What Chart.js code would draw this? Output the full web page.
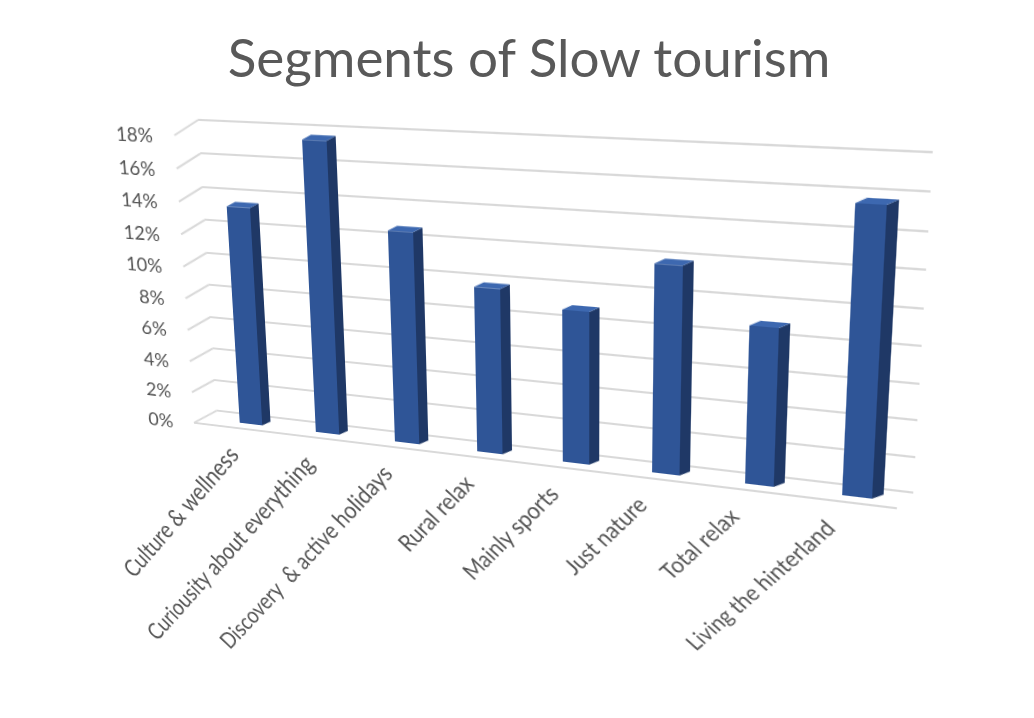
<!DOCTYPE html>
<html>
<head>
<meta charset="utf-8">
<title>Segments of Slow tourism</title>
<script src="https://cdn.jsdelivr.net/npm/chart.js@4.4.1/dist/chart.umd.min.js"></script>
<style>
  html, body { margin: 0; padding: 0; background: #fff; }
  body { width: 1034px; height: 718px; position: relative; overflow: hidden; }
  #title {
    position: absolute; left: 0; top: 30px; width: 1058px;
    text-align: center; font-family: Lato, 'Open Sans', sans-serif;
    font-size: 53px; line-height: 1; color: #595959;
  }
  #plot { position: absolute; left: 0; top: 0; width: 1034px; height: 718px; transform-origin: 0 0; }
</style>
</head>
<body>
<div id="title">Segments of Slow tourism</div>
<div id="plot"><canvas id="slowChart" width="1034" height="718"></canvas></div>
<script>
// Data (share of tourists, %)
const segments = [
  'Culture & wellness',
  'Curiousity about everything',
  'Discovery  & active holidays',
  'Rural relax',
  'Mainly sports',
  'Just nature',
  'Total relax',
  'Living the hinterland'
];
const shares = [13.6, 17.8, 12.8, 9.9, 9.0, 12.0, 9.0, 15.9];
const yTicks = [0, 2, 4, 6, 8, 10, 12, 14, 16, 18];

// Colours
const frontColor = '#2F5597',
  sideColor = '#1F3866',
  topColor = '#3D68B0',
  gridColor = '#D9D9D9',
  labelColor = '#555555';

// Depth of the bar boxes, back wall and floor edge (flat canvas px)
const barDepth = { x: 9, y: -5 };
const wallDepth = { x: 4, y: -11 };
const frontEdge = { left: -22, right: -8, y: 5 };
const labelFont = 22.5;

// Where bar 1 and bar 8 stand in the picture, at 0% and at the top of the axis
const viewTarget = [[251, 425], [234, 133], [857, 498], [873, 163]];

// Back wall grid is drawn shifted by the depth, plus the side wall and floor edge
const wallPlugin = {
  id: 'wall',
  beforeDraw(chart) {
    chart.ctx.save();
    chart.ctx.translate(wallDepth.x, wallDepth.y);
  },
  beforeDatasetsDraw(chart) {
    const ctx = chart.ctx;
    ctx.restore();
    const area = chart.chartArea;
    const yScale = chart.scales.y;
    const x0 = area.left + frontEdge.left;
    ctx.save();
    ctx.strokeStyle = gridColor;
    ctx.lineWidth = 2;
    ctx.beginPath();
    yTicks.forEach(function (v) {
      const py = yScale.getPixelForValue(v);
      ctx.moveTo(x0, py + frontEdge.y);
      ctx.lineTo(area.left + wallDepth.x, py + wallDepth.y);
    });
    const p0 = yScale.getPixelForValue(0) + frontEdge.y;
    ctx.moveTo(x0, p0);
    ctx.lineTo(area.right + frontEdge.right, p0);
    ctx.stroke();
    ctx.restore();
  }
};

// Side and top faces of each bar
const boxPlugin = {
  id: 'box',
  afterDatasetsDraw(chart) {
    const ctx = chart.ctx;
    chart.getDatasetMeta(0).data.forEach(function (bar) {
      const p = bar.getProps(['x', 'y', 'base', 'width'], true);
      const l = p.x - p.width / 2, r = p.x + p.width / 2;
      ctx.save();
      ctx.fillStyle = sideColor;
      ctx.beginPath();
      ctx.moveTo(r, p.y);
      ctx.lineTo(r + barDepth.x, p.y + barDepth.y);
      ctx.lineTo(r + barDepth.x, p.base + barDepth.y);
      ctx.lineTo(r, p.base);
      ctx.closePath();
      ctx.fill();
      ctx.fillStyle = topColor;
      ctx.beginPath();
      ctx.moveTo(l, p.y);
      ctx.lineTo(l + barDepth.x, p.y + barDepth.y);
      ctx.lineTo(r + barDepth.x, p.y + barDepth.y);
      ctx.lineTo(r, p.y);
      ctx.closePath();
      ctx.fill();
      ctx.restore();
    });
  }
};

// per-label font size, filled in once the view transform is known
let xLabelSizes = segments.map(function () { return labelFont; });

const slowChart = new Chart(document.getElementById('slowChart'), {
  type: 'bar',
  data: {
    labels: segments,
    datasets: [
      {
        data: shares,
        backgroundColor: frontColor,
        borderWidth: 0,
        barPercentage: 0.3,
        categoryPercentage: 1
      }
    ]
  },
  options: {
    responsive: false,
    animation: false,
    layout: { padding: { left: 112, right: 182, top: 133, bottom: 13 } },
    plugins: {
      legend: { display: false },
      title: { display: false },
      tooltip: { enabled: false }
    },
    scales: {
      x: {
        afterFit: function (scale) { scale.height = 280; },
        grid: { display: false },
        border: { display: false },
        ticks: {
          z: 1,
          autoSkip: false,
          minRotation: 50,
          maxRotation: 50,
          padding: 12,
          labelOffset: -20,
          color: labelColor,
          font: function (ctx) {
            return { family: 'Lato', size: xLabelSizes[ctx.index] || labelFont };
          }
        }
      },
      y: {
        min: 0,
        max: yTicks[yTicks.length - 1],
        afterFit: function (scale) { scale.width = 100; },
        afterBuildTicks: function (scale) {
          scale.ticks = yTicks.map(function (v) { return { value: v }; });
        },
        grid: { color: gridColor, lineWidth: 2, drawTicks: false },
        border: { display: false },
        ticks: {
          z: 1,
          padding: 45,
          labelOffset: 7,
          color: labelColor,
          font: { family: 'Lato', size: 20 },
          callback: function (v) { return v + '%'; }
        }
      }
    }
  },
  plugins: [wallPlugin, boxPlugin]
});

// Perspective: map the flat plot onto the tilted view with a projective transform
function homography(src, dst) {
  const A = [], b = [];
  for (let i = 0; i < 4; i++) {
    const x = src[i][0], y = src[i][1], u = dst[i][0], v = dst[i][1];
    A.push([x, y, 1, 0, 0, 0, -u * x, -u * y]); b.push(u);
    A.push([0, 0, 0, x, y, 1, -v * x, -v * y]); b.push(v);
  }
  for (let c = 0; c < 8; c++) {
    let p = c;
    for (let r = c + 1; r < 8; r++) if (Math.abs(A[r][c]) > Math.abs(A[p][c])) p = r;
    [A[c], A[p]] = [A[p], A[c]];
    [b[c], b[p]] = [b[p], b[c]];
    for (let r = 0; r < 8; r++) {
      if (r === c) continue;
      const f = A[r][c] / A[c][c];
      for (let k = c; k < 8; k++) A[r][k] -= f * A[c][k];
      b[r] -= f * b[c];
    }
  }
  return b.map(function (val, i) { return val / A[i][i]; });
}

const xs = slowChart.scales.x, ys = slowChart.scales.y;
const last = segments.length - 1, yTop = yTicks[yTicks.length - 1];
const src = [
  [xs.getPixelForValue(0), ys.getPixelForValue(0)],
  [xs.getPixelForValue(0), ys.getPixelForValue(yTop)],
  [xs.getPixelForValue(last), ys.getPixelForValue(0)],
  [xs.getPixelForValue(last), ys.getPixelForValue(yTop)]
];
const h = homography(src, viewTarget);
document.getElementById('plot').style.transform =
  'matrix3d(' + [h[0], h[3], 0, h[6], h[1], h[4], 0, h[7], 0, 0, 1, 0, h[2], h[5], 0, 1].join(',') + ')';

// keep the category labels the same size on screen despite the perspective
const detH = h[0] * (h[4] - h[5] * h[7]) - h[1] * (h[3] - h[5] * h[6]) + h[2] * (h[3] * h[7] - h[4] * h[6]);
xLabelSizes = segments.map(function (s, i) {
  const x = xs.getPixelForValue(i) - 50, y = ys.getPixelForValue(0) + 60;
  const w = h[6] * x + h[7] * y + 1;
  return labelFont / Math.sqrt(Math.abs(detH) / (w * w * w));
});
slowChart.update('none');
</script>
</body>
</html>
